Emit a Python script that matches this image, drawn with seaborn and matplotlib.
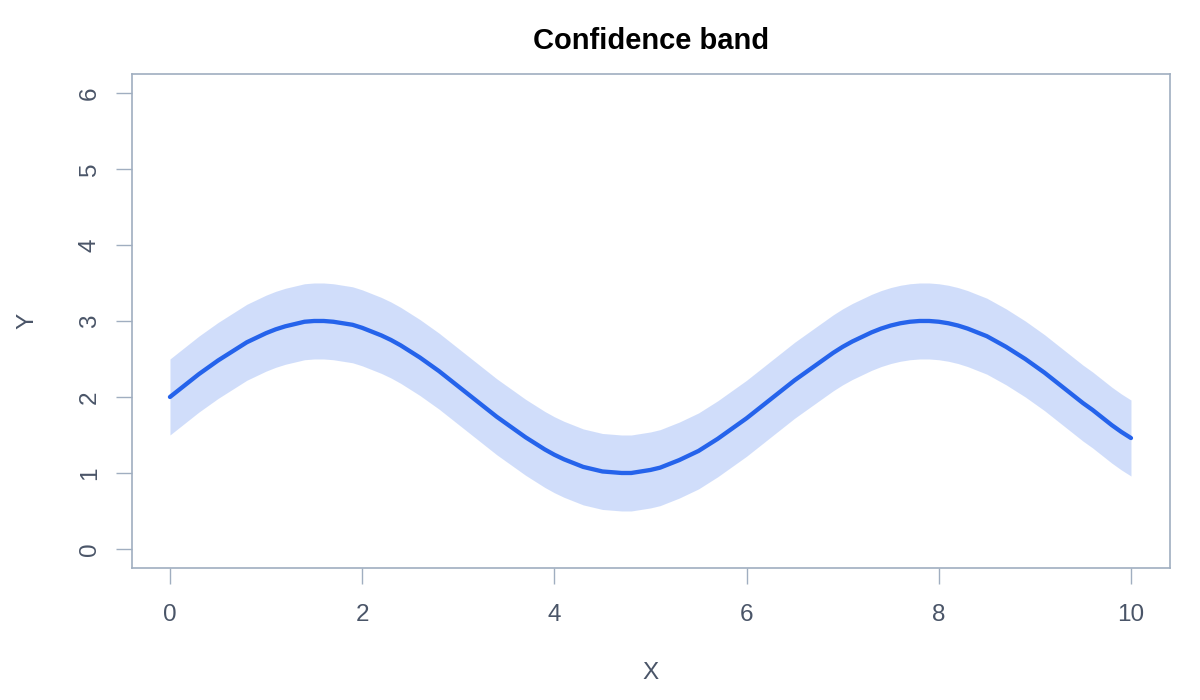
import matplotlib
matplotlib.use("Agg")
import matplotlib.pyplot as plt
import seaborn as sns
import pandas as pd

# values
x_vals = [0.0, 0.1, 0.2, 0.3, 0.4, 0.5, 0.6, 0.7, 0.8, 0.9,
          1.0, 1.1, 1.2, 1.3, 1.4, 1.5, 1.6, 1.7, 1.8, 1.9,
          2.0, 2.1, 2.2, 2.3, 2.4, 2.5, 2.6, 2.7, 2.8, 2.9,
          3.0, 3.1, 3.2, 3.3, 3.4, 3.5, 3.6, 3.7, 3.8, 3.9,
          4.0, 4.1, 4.2, 4.3, 4.4, 4.5, 4.6, 4.7, 4.8, 4.9,
          5.0, 5.1, 5.2, 5.3, 5.4, 5.5, 5.6, 5.7, 5.8, 5.9,
          6.0, 6.1, 6.2, 6.3, 6.4, 6.5, 6.6, 6.7, 6.8, 6.9,
          7.0, 7.1, 7.2, 7.3, 7.4, 7.5, 7.6, 7.7, 7.8, 7.9,
          8.0, 8.1, 8.2, 8.3, 8.4, 8.5, 8.6, 8.7, 8.8, 8.9,
          9.0, 9.1, 9.2, 9.3, 9.4, 9.5, 9.6, 9.7, 9.8, 9.9,
          10.0]
y_mean = [2.00, 2.10, 2.20, 2.30, 2.39, 2.48, 2.56, 2.64, 2.72, 2.78,
          2.84, 2.89, 2.93, 2.96, 2.99, 3.00, 3.00, 2.99, 2.97, 2.95,
          2.91, 2.86, 2.81, 2.75, 2.68, 2.60, 2.52, 2.43, 2.34, 2.24,
          2.14, 2.04, 1.94, 1.84, 1.74, 1.65, 1.56, 1.47, 1.39, 1.31,
          1.24, 1.18, 1.13, 1.08, 1.05, 1.02, 1.01, 1.00, 1.00, 1.02,
          1.04, 1.07, 1.12, 1.17, 1.23, 1.29, 1.37, 1.45, 1.54, 1.63,
          1.72, 1.82, 1.92, 2.02, 2.12, 2.22, 2.31, 2.40, 2.49, 2.58,
          2.66, 2.73, 2.79, 2.85, 2.90, 2.94, 2.97, 2.99, 3.00, 3.00,
          2.99, 2.97, 2.94, 2.90, 2.85, 2.80, 2.73, 2.66, 2.58, 2.50,
          2.41, 2.32, 2.22, 2.12, 2.02, 1.92, 1.83, 1.73, 1.63, 1.54,
          1.46]
y_lower = [1.50, 1.60, 1.70, 1.80, 1.89, 1.98, 2.06, 2.14, 2.22, 2.28,
           2.34, 2.39, 2.43, 2.46, 2.49, 2.50, 2.50, 2.49, 2.47, 2.45,
           2.41, 2.36, 2.31, 2.25, 2.18, 2.10, 2.02, 1.93, 1.84, 1.74,
           1.64, 1.54, 1.44, 1.34, 1.24, 1.15, 1.06, 0.97, 0.89, 0.81,
           0.74, 0.68, 0.63, 0.58, 0.55, 0.52, 0.51, 0.50, 0.50, 0.52,
           0.54, 0.57, 0.62, 0.67, 0.73, 0.79, 0.87, 0.95, 1.04, 1.13,
           1.22, 1.32, 1.42, 1.52, 1.62, 1.72, 1.81, 1.90, 1.99, 2.08,
           2.16, 2.23, 2.29, 2.35, 2.40, 2.44, 2.47, 2.49, 2.50, 2.50,
           2.49, 2.47, 2.44, 2.40, 2.35, 2.30, 2.23, 2.16, 2.08, 2.00,
           1.91, 1.82, 1.72, 1.62, 1.52, 1.42, 1.33, 1.23, 1.13, 1.04,
           0.96]
y_upper = [2.50, 2.60, 2.70, 2.80, 2.89, 2.98, 3.06, 3.14, 3.22, 3.28,
           3.34, 3.39, 3.43, 3.46, 3.49, 3.50, 3.50, 3.49, 3.47, 3.45,
           3.41, 3.36, 3.31, 3.25, 3.18, 3.10, 3.02, 2.93, 2.84, 2.74,
           2.64, 2.54, 2.44, 2.34, 2.24, 2.15, 2.06, 1.97, 1.89, 1.81,
           1.74, 1.68, 1.63, 1.58, 1.55, 1.52, 1.51, 1.50, 1.50, 1.52,
           1.54, 1.57, 1.62, 1.67, 1.73, 1.79, 1.87, 1.95, 2.04, 2.13,
           2.22, 2.32, 2.42, 2.52, 2.62, 2.72, 2.81, 2.90, 2.99, 3.08,
           3.16, 3.23, 3.29, 3.35, 3.40, 3.44, 3.47, 3.49, 3.50, 3.50,
           3.49, 3.47, 3.44, 3.40, 3.35, 3.30, 3.23, 3.16, 3.08, 3.00,
           2.91, 2.82, 2.72, 2.62, 2.52, 2.42, 2.33, 2.23, 2.13, 2.04,
           1.96]
x_ticks = [0, 2, 4, 6, 8, 10]
y_ticks = [0, 1, 2, 3, 4, 5, 6]

df = pd.DataFrame({'x': x_vals, 'y': y_mean, 'lo': y_lower, 'hi': y_upper})

sns.set_style('white')
plt.rcParams['font.family'] = ['Liberation Sans', 'DejaVu Sans']

line_col = '#2563eb'
axis_col = '#a0aec0'
text_col = '#4a5568'

fig = plt.figure(figsize=(12, 7), dpi=100)
ax = fig.add_axes([0.11, 0.1886, 0.865, 0.7057])

ax.fill_between(df['x'], df['lo'], df['hi'], color=line_col, alpha=0.21, linewidth=0)
sns.lineplot(data=df, x='x', y='y', ax=ax, color=line_col, linewidth=3.1)

ax.set_xlim(-0.395, 10.406)
ax.set_ylim(-0.25, 6.25)
ax.set_xticks(x_ticks)
ax.set_yticks(y_ticks)
ax.set_yticklabels([str(v) for v in y_ticks], rotation=90, va='center')

for s in ax.spines.values():
    s.set_color(axis_col)
    s.set_linewidth(1.2)
ax.tick_params(axis='both', which='major', direction='out', length=11.5, width=1.0,
               color=axis_col, labelcolor=text_col, labelsize=17.5,
               bottom=True, left=True, top=False, right=False)
ax.tick_params(axis='x', pad=14.5)
ax.tick_params(axis='y', pad=11)

ax.set_xlabel('')
ax.set_ylabel('')
fig.text(0.5425, 1 - 673 / 700, 'X', ha='center', va='center', fontsize=17.5, color=text_col)
fig.text(27 / 1200, 1 - 321 / 700, 'Y', ha='center', va='center', fontsize=17.5,
         color=text_col, rotation=90)
fig.text(0.5425, 1 - 41 / 700, 'Confidence band', ha='center', va='center',
         fontsize=21, fontweight='bold', color='black')

fig.savefig('out.png', dpi=100)
